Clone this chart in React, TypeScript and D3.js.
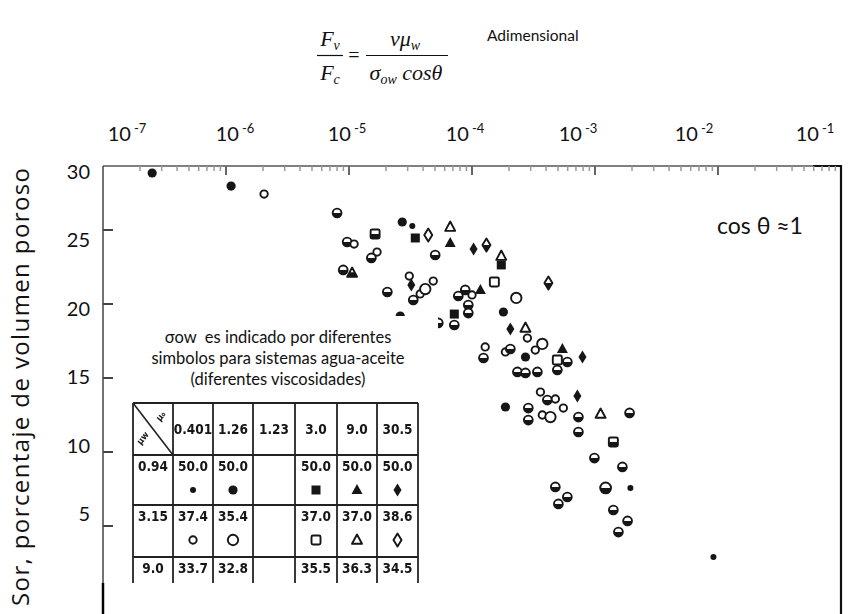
import React from 'react';
import * as d3 from 'd3';

// ---------- data ----------
const xTickValues = [1e-7, 1e-6, 1e-5, 1e-4, 1e-3, 1e-2, 1e-1];
const xTickExponents = ['-7', '-6', '-5', '-4', '-3', '-2', '-1'];
const yTickValues = [5, 10, 15, 20, 25, 30];

// capillary number (Fv/Fc) of each measured point
const capNumber = [
  2.51e-7, 1.10e-6, 2.04e-6, 8.0e-6, 2.71e-5, 3.27e-5, 3.46e-5, 4.41e-5, 6.65e-5, 6.65e-5,
  5.02e-5, 1.03e-4, 1.31e-4, 1.73e-4, 1.73e-4, 1.52e-4, 2.29e-4, 4.18e-4, 1.80e-4, 1.63e-5,
  9.66e-6, 1.10e-5, 1.69e-5, 1.52e-5, 8.97e-6, 1.06e-5, 2.05e-5, 3.09e-5, 3.21e-5, 3.33e-5,
  3.79e-5, 4.17e-5, 4.84e-5, 7.74e-5, 8.81e-5, 1.00e-4, 1.17e-4, 9.33e-5, 7.18e-5, 7.18e-5,
  2.61e-5, 5.32e-5, 2.05e-4, 2.72e-4, 2.82e-4, 3.73e-4, 1.28e-4, 1.24e-4, 1.87e-4, 2.05e-4,
  2.72e-4, 3.27e-4, 5.43e-4, 4.94e-4, 5.96e-4, 7.91e-4, 2.34e-4, 2.72e-4, 3.40e-4, 4.94e-4,
  3.60e-4, 7.19e-4, 4.10e-4, 4.76e-4, 5.53e-4, 1.87e-4, 2.87e-4, 2.87e-4, 3.73e-4, 4.34e-4,
  7.33e-4, 7.33e-4, 1.11e-3, 1.91e-3, 1.41e-3, 9.89e-4, 1.67e-3, 4.76e-4, 5.96e-4, 5.04e-4,
  1.22e-3, 1.94e-3, 1.41e-3, 1.84e-3, 1.55e-3, 9.18e-3, 9.33e-5,
];
// residual oil saturation, % of pore volume
const sorValues = [
  28.85, 27.97, 27.43, 26.15, 25.54, 25.27, 24.46, 24.66, 25.20, 24.12,
  23.31, 23.72, 23.99, 23.24, 22.64, 21.49, 20.41, 21.42, 19.46, 24.73,
  24.19, 24.05, 23.51, 23.11, 22.30, 22.09, 20.81, 21.89, 21.28, 20.27,
  20.68, 21.01, 21.55, 20.54, 20.95, 20.61, 20.95, 19.93, 19.32, 18.58,
  19.19, 18.72, 18.31, 18.38, 17.70, 17.30, 17.10, 16.35, 16.76, 16.96,
  16.42, 16.89, 16.96, 16.22, 16.08, 16.42, 15.41, 15.34, 15.41, 15.54,
  14.05, 13.78, 13.51, 13.58, 12.97, 13.04, 12.97, 12.16, 12.50, 12.36,
  12.36, 11.35, 12.57, 12.64, 10.68, 9.59, 8.99, 7.64, 6.96, 6.49,
  7.57, 7.57, 6.08, 5.34, 4.59, 2.91, 19.39,
];
// symbol of each point (f = filled, o = open, h = half filled; c/sq/tri/dia; s/l = small/large)
const pointSymbols = [
  'fcl', 'fcl', 'ocs', 'hc', 'fcl', 'fcs', 'fsq', 'odia', 'otri', 'ftri',
  'hc', 'fdia', 'hdia', 'otri', 'fsq', 'osq', 'ocl', 'hdia', 'fcl', 'hsq',
  'hc', 'ocs', 'ocs', 'hc', 'hc', 'htri', 'hc', 'ocs', 'fdia', 'hc',
  'ocs', 'ocl', 'ocs', 'hc', 'hc', 'ocs', 'ftri', 'hc', 'fsq', 'hc',
  'fcl', 'hc', 'fdia', 'otri', 'ocs', 'ocl', 'ocs', 'hc', 'ocs', 'hc',
  'fcl', 'ocs', 'ftri', 'osq', 'hc', 'fdia', 'hc', 'hc', 'hc', 'hc',
  'ocs', 'fdia', 'hc', 'ocs', 'ocs', 'fcl', 'hc', 'hc', 'ocs', 'ocl',
  'hc', 'hc', 'otri', 'hc', 'hsq', 'hc', 'hc', 'hc', 'hc', 'hc',
  'hcl', 'fcs', 'hc', 'hc', 'hc', 'fcs', 'hc',
];

// legend table
const oilViscosities = ['0.401', '1.26', '1.23', '3.0', '9.0', '30.5'];
const waterViscosities = ['0.94', '3.15', '9.0'];
const iftRows = [
  ['50.0', '50.0', '', '50.0', '50.0', '50.0'],
  ['37.4', '35.4', '', '37.0', '37.0', '38.6'],
  ['33.7', '32.8', '', '35.5', '36.3', '34.5'],
];
const iftSymbols = [
  ['fcs', 'fcl', '', 'fsq', 'ftri', 'fdia'],
  ['ocs', 'ocl', '', 'osq', 'otri', 'odia'],
  ['', '', '', '', '', ''],
];

const annotationLines = [
  'σow  es indicado por diferentes',
  'simbolos para sistemas agua-aceite',
  '(diferentes viscosidades)',
];

// ---------- drawing ----------
const INK = '#151515';

function Marker({ t, cx, cy }: { t: string; cx: number; cy: number }) {
  const sw = 1.9;
  switch (t) {
    case 'fcs':
      return <circle cx={cx} cy={cy} r={3} fill={INK} />;
    case 'fcl':
      return <circle cx={cx} cy={cy} r={4.6} fill={INK} />;
    case 'ocs':
      return <circle cx={cx} cy={cy} r={3.7} fill="#fff" stroke={INK} strokeWidth={sw} />;
    case 'ocl':
      return <circle cx={cx} cy={cy} r={5.2} fill="#fff" stroke={INK} strokeWidth={sw} />;
    case 'hc':
    case 'hcl': {
      const r = t === 'hc' ? 4.4 : 5.4;
      return (
        <g>
          <circle cx={cx} cy={cy} r={r} fill="#fff" stroke={INK} strokeWidth={sw} />
          <path d={`M${cx - r},${cy} A${r},${r} 0 0 0 ${cx + r},${cy} Z`} fill={INK} />
        </g>
      );
    }
    case 'fsq':
      return <rect x={cx - 4.5} y={cy - 4.5} width={9} height={9} fill={INK} />;
    case 'osq':
      return <rect x={cx - 4.5} y={cy - 4.5} width={9} height={9} rx={1.5} fill="#fff" stroke={INK} strokeWidth={sw} />;
    case 'hsq':
      return (
        <g>
          <rect x={cx - 4.5} y={cy - 4.5} width={9} height={9} rx={1.5} fill="#fff" stroke={INK} strokeWidth={sw} />
          <rect x={cx - 4.5} y={cy} width={9} height={4.5} fill={INK} />
        </g>
      );
    case 'ftri':
      return <polygon points={`${cx},${cy - 6} ${cx - 5.5},${cy + 4} ${cx + 5.5},${cy + 4}`} fill={INK} />;
    case 'otri':
      return (
        <polygon points={`${cx},${cy - 5.5} ${cx - 5},${cy + 3.8} ${cx + 5},${cy + 3.8}`}
          fill="#fff" stroke={INK} strokeWidth={sw} strokeLinejoin="round" />
      );
    case 'htri':
      return (
        <g>
          <polygon points={`${cx},${cy - 5.5} ${cx - 5},${cy + 3.8} ${cx + 5},${cy + 3.8}`}
            fill="#fff" stroke={INK} strokeWidth={sw} strokeLinejoin="round" />
          <polygon points={`${cx - 2.5},${cy - 0.8} ${cx + 2.5},${cy - 0.8} ${cx + 5},${cy + 3.8} ${cx - 5},${cy + 3.8}`} fill={INK} />
        </g>
      );
    case 'fdia':
      return <polygon points={`${cx},${cy - 6.5} ${cx + 4},${cy} ${cx},${cy + 6.5} ${cx - 4},${cy}`} fill={INK} />;
    case 'odia':
      return (
        <polygon points={`${cx},${cy - 6.5} ${cx + 4},${cy} ${cx},${cy + 6.5} ${cx - 4},${cy}`}
          fill="#fff" stroke={INK} strokeWidth={sw} strokeLinejoin="round" />
      );
    case 'hdia':
      return (
        <g>
          <polygon points={`${cx},${cy - 6.5} ${cx + 4},${cy} ${cx},${cy + 6.5} ${cx - 4},${cy}`}
            fill="#fff" stroke={INK} strokeWidth={sw} strokeLinejoin="round" />
          <polygon points={`${cx - 4},${cy} ${cx + 4},${cy} ${cx},${cy + 6.5}`} fill={INK} />
        </g>
      );
    default:
      return null;
  }
}

export default function App() {
  const W = 864;
  const H = 614;
  const left = 103;
  const right = 841;
  const frameTop = 166;
  const chartBottom = 583;

  const x = d3.scaleLog().domain([1e-7, 1e-1]).range([left, right]);
  const y = d3.scaleLinear().domain([0, 30]).range([600, 156]);
  // overlaid (pasted) tick labels sit on their own positions
  const xLabel = d3.scaleLog().domain(xTickValues).range([127, 235, 347, 465, 578, 694, 815]);
  const yLabel = d3.scaleLinear().domain([5, 30]).range([514, 172]);

  const minorTicks: number[] = [];
  for (let e = -7; e < -1; e++) {
    for (let m = 2; m <= 9; m++) minorTicks.push(m * Math.pow(10, e));
  }

  const sans = 'Lato, "Open Sans", sans-serif';
  const serif = '"Liberation Serif", "DejaVu Serif", serif';

  // table geometry
  const colEdges = [133, 173, 213, 253, 295, 337, 377, 418];
  const rowEdges = [403, 455, 505, 557, 610];
  const tableFont = '"Liberation Sans Narrow", "DejaVu Sans Condensed", sans-serif';

  return (
    <svg width={W} height={H} style={{ position: 'absolute', left: 0, top: 0, background: '#fff' }}
      fontFamily={sans}>
      <defs>
        <filter id="scan" x="-10%" y="-10%" width="120%" height="120%">
          <feGaussianBlur stdDeviation="0.55" />
        </filter>
        <clipPath id="chartClip">
          <rect x={0} y={0} width={W} height={chartBottom} />
        </clipPath>
      </defs>
      <rect x={0} y={0} width={W} height={H} fill="#fff" />

      {/* formula title */}
      <g fontFamily={serif} fontStyle="italic" fill="#111">
        <text x={330} y={46} fontSize={22} textAnchor="middle">
          F<tspan fontSize={14} dy={4}>v</tspan>
        </text>
        <line x1={317} x2={343} y1={55.5} y2={55.5} stroke="#111" strokeWidth={1.2} />
        <text x={330} y={80} fontSize={22} textAnchor="middle">
          F<tspan fontSize={14} dy={4}>c</tspan>
        </text>
        <text x={354} y={62} fontSize={20} fontStyle="normal" textAnchor="middle">=</text>
        <text x={405} y={46} fontSize={22} textAnchor="middle">
          vμ<tspan fontSize={14} dy={4}>w</tspan>
        </text>
        <line x1={366} x2={448} y1={55.5} y2={55.5} stroke="#111" strokeWidth={1.2} />
        <text x={406} y={80} fontSize={22} textAnchor="middle">
          σ<tspan fontSize={14} dy={4}>ow</tspan><tspan dy={-4}> cosθ</tspan>
        </text>
      </g>
      <text x={487} y={41} fontSize={15.5} fill="#111">Adimensional</text>

      {/* y axis title */}
      <text transform="translate(29,387) rotate(-90)" textAnchor="middle" fontSize={24}
        textLength={438} lengthAdjust="spacing"
        fontFamily='"Open Sans", sans-serif' fill="#111">
        Sor, porcentaje de volumen poroso
      </text>

      {/* x tick labels (top) */}
      {xTickValues.map((v, i) => (
        <text key={'xl' + i} x={xLabel(v)} y={141} textAnchor="middle" fontSize={20} fill="#111">
          10<tspan fontSize={13} dy={-8} dx={3}>{xTickExponents[i]}</tspan>
        </text>
      ))}

      {/* y tick labels */}
      {yTickValues.map((v) => (
        <text key={'yl' + v} x={90} y={yLabel(v)} dy="0.35em" textAnchor="end" fontSize={20} fill="#111">
          {v}
        </text>
      ))}

      <g clipPath="url(#chartClip)">
        {/* scanned-looking frame */}
        <line x1={left} x2={813} y1={frameTop} y2={frameTop} stroke="#555" strokeWidth={1.3} />
        <line x1={813} x2={right} y1={frameTop} y2={frameTop} stroke="#111" strokeWidth={2} />
        {minorTicks.map((v, i) => (
          <line key={'mt' + i} x1={x(v)} x2={x(v)} y1={frameTop} y2={frameTop + 5} stroke="#999" strokeWidth={1.5} />
        ))}
        {xTickValues.slice(1, -1).map((v, i) => (
          <line key={'Mt' + i} x1={x(v)} x2={x(v)} y1={frameTop} y2={frameTop + 9} stroke="#666" strokeWidth={2} />
        ))}

        {/* data points */}
        <g filter="url(#scan)">
          {capNumber.map((c, i) => (
            <Marker key={'p' + i} t={pointSymbols[i]} cx={x(c)} cy={y(sorValues[i])} />
          ))}
        </g>

        {/* annotation box */}
        <rect x={106} y={316} width={332} height={300} fill="#fff" />
        {annotationLines.map((s, i) => (
          <text key={'an' + i} x={278} y={343 + i * 21} textAnchor="middle" fontSize={16.5} fill="#111"
            style={{ whiteSpace: 'pre' }}>{s}</text>
        ))}

        {/* legend table */}
        <g filter="url(#scan)" fontFamily={tableFont} fontWeight="bold" fill={INK}>
          {colEdges.map((cx, i) => (
            <line key={'cv' + i} x1={cx} x2={cx} y1={rowEdges[0]} y2={rowEdges[4]} stroke="#222" strokeWidth={1.8} />
          ))}
          {rowEdges.slice(0, 4).map((ry, i) => (
            <line key={'rh' + i} x1={colEdges[0]} x2={colEdges[7]} y1={ry} y2={ry} stroke="#222" strokeWidth={1.8} />
          ))}
          <line x1={colEdges[0]} y1={rowEdges[0]} x2={colEdges[1]} y2={rowEdges[1]} stroke="#222" strokeWidth={1.6} />
          <text transform={`translate(163,418) rotate(-50)`} fontSize={9} textAnchor="middle">μ₀</text>
          <text transform={`translate(145,440) rotate(-50)`} fontSize={9} textAnchor="middle">μw</text>
          {oilViscosities.map((s, i) => (
            <text key={'ov' + i} x={(colEdges[i + 1] + colEdges[i + 2]) / 2} y={434} textAnchor="middle" fontSize={13.5}>{s}</text>
          ))}
          {waterViscosities.map((s, r) => (
            <text key={'wv' + r} x={153} y={rowEdges[r + 1] + 16} textAnchor="middle" fontSize={13.5}>{s}</text>
          ))}
          {iftRows.map((row, r) =>
            row.map((s, c) => (
              <text key={`ift${r}-${c}`} x={(colEdges[c + 1] + colEdges[c + 2]) / 2} y={rowEdges[r + 1] + 16}
                textAnchor="middle" fontSize={13.5}>{s}</text>
            )),
          )}
          {iftSymbols.map((row, r) =>
            row.map((t, c) =>
              t ? (
                <Marker key={`sym${r}-${c}`} t={t} cx={(colEdges[c + 1] + colEdges[c + 2]) / 2} cy={rowEdges[r + 1] + 35} />
              ) : null,
            ),
          )}
        </g>
      </g>

      {/* white band under the pasted picture */}
      <rect x={105} y={chartBottom} width={735} height={H - chartBottom} fill="#fff" />

      {/* axes frame lines */}
      <line x1={left} x2={left} y1={frameTop} y2={chartBottom} stroke="#444" strokeWidth={1.5} />
      <line x1={left} x2={left} y1={chartBottom} y2={H} stroke="#000" strokeWidth={2.5} />
      <line x1={right} x2={right} y1={frameTop - 1} y2={H} stroke="#111" strokeWidth={2.2} />
      {yTickValues.slice(0, -1).map((v) => (
        <line key={'yt' + v} x1={left} x2={left + 10} y1={y(v)} y2={y(v)} stroke="#444" strokeWidth={2} />
      ))}

      <text x={717} y={234} fontSize={23} fill="#111">cos θ ≈1</text>
    </svg>
  );
}
